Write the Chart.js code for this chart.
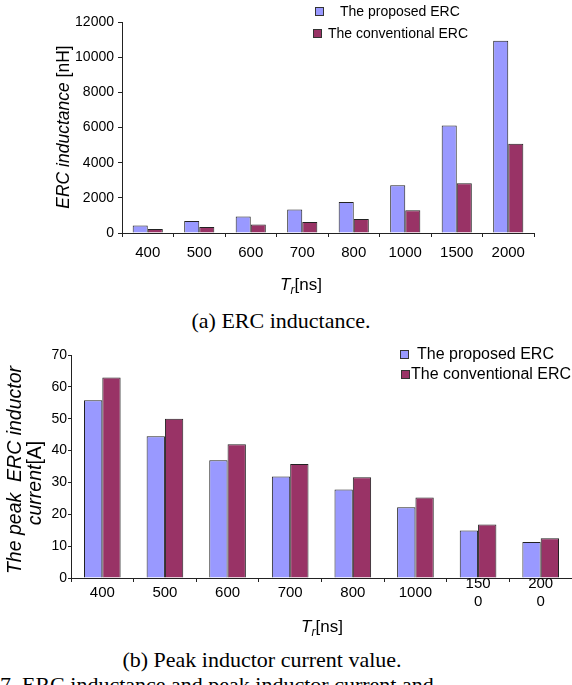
<!DOCTYPE html>
<html>
<head>
<meta charset="utf-8">
<script src="https://cdn.jsdelivr.net/npm/chart.js@4.4.1/dist/chart.umd.min.js"></script>
<style>
  html, body { margin: 0; padding: 0; background: #fff; }
  body { width: 572px; height: 685px; overflow: hidden; position: relative; }
  canvas { position: absolute; left: 0; }
  .cap { position: absolute; font-family: 'Liberation Serif', 'Times New Roman', serif; font-size: 22px; line-height: 26px; white-space: nowrap; color: #000; }
</style>
</head>
<body>
<canvas id="chartL" width="572" height="300" style="top:0"></canvas>
<div class="cap" style="left:281px; top:308px; transform:translateX(-50%)">(a) ERC inductance.</div>
<canvas id="chartI" width="572" height="310" style="top:335px"></canvas>
<div class="cap" style="left:262px; top:647px; transform:translateX(-50%)">(b) Peak inductor current value.</div>
<div class="cap" style="left:0; top:672px">7. ERC inductance and peak inductor current and</div>
<script>
// datos
var categorias = ['400', '500', '600', '700', '800', '1000', '1500', '2000'];
var etiquetasI = ['400', '500', '600', '700', '800', '1000', ['150', '0'], ['200', '0']];
var nombres = ['The proposed ERC', 'The conventional ERC'];
var propuestaL = [430, 680, 945, 1340, 1760, 2720, 6120, 10930];     // nH
var convencionalL = [230, 340, 490, 620, 790, 1290, 2830, 5070];     // nH
var propuestaI = [55.8, 44.5, 37.0, 31.9, 27.8, 22.2, 14.9, 11.3];   // A
var convencionalI = [62.9, 50.0, 42.0, 35.8, 31.6, 25.3, 16.8, 12.5]; // A

var SANS = "'Liberation Sans', Arial, sans-serif";
var colores = ['#9999FF', '#993366'];

Chart.defaults.font.family = SANS;
Chart.defaults.color = '#000';

// texto con partes en cursiva / normal
function textoMixto(ctx, t) {
    ctx.save();
    ctx.translate(t.x, t.y);
    if (t.rot) ctx.rotate(t.rot);
    var total = 0;
    t.partes.forEach(function (p) {
        ctx.font = (p.italic ? 'italic ' : '') + p.size + 'px ' + SANS;
        p.w = ctx.measureText(p.t).width;
        total += p.w;
    });
    var x = -total / 2;
    ctx.fillStyle = '#000';
    ctx.textBaseline = 'alphabetic';
    ctx.textAlign = 'left';
    t.partes.forEach(function (p) {
        ctx.font = (p.italic ? 'italic ' : '') + p.size + 'px ' + SANS;
        ctx.fillText(p.t, x, p.dy || 0);
        x += p.w;
    });
    ctx.restore();
}

function decorado(cfg) {
    return {
        id: 'decorado',
        afterDraw: function (chart) {
            var ctx = chart.ctx;
            // leyenda
            cfg.leyenda.forEach(function (l, i) {
                var ds = chart.data.datasets[i];
                ctx.save();
                ctx.fillStyle = ds.backgroundColor;
                ctx.fillRect(l.sx, l.sy, l.s, l.s);
                ctx.strokeStyle = '#333';
                ctx.lineWidth = 1;
                ctx.strokeRect(l.sx + 0.5, l.sy + 0.5, l.s - 1, l.s - 1);
                ctx.fillStyle = '#000';
                ctx.font = cfg.fuenteLeyenda + 'px ' + SANS;
                ctx.textBaseline = 'middle';
                ctx.fillText(ds.label, l.tx, l.ty);
                ctx.restore();
            });
            cfg.textos.forEach(function (t) { textoMixto(ctx, t); });
        }
    };
}

function opciones(cfg) {
    return {
        responsive: false,
        animation: false,
        devicePixelRatio: 1,
        layout: { padding: cfg.padding },
        plugins: { legend: { display: false }, tooltip: { enabled: false } },
        scales: {
            x: {
                grid: { drawOnChartArea: false, drawTicks: true, tickLength: 4, color: '#222', offset: true },
                border: { color: '#222' },
                ticks: { font: { size: 15 }, color: '#000', padding: cfg.xPad, maxRotation: 0, autoSkip: false },
                afterFit: function (s) { s.height = cfg.xAlto; }
            },
            y: {
                min: 0,
                max: cfg.yMax,
                grid: { drawOnChartArea: false, drawTicks: true, tickLength: cfg.yTick, color: '#222' },
                border: { color: '#222' },
                ticks: { stepSize: cfg.paso, font: { size: 14 }, color: '#000', padding: cfg.yPad,
                    callback: function (v) { return String(v); } },
                afterFit: function (s) { s.width = cfg.yAncho; }
            }
        }
    };
}

function series(a, b) {
    return [a, b].map(function (d, i) {
        return {
            label: nombres[i],
            data: d,
            backgroundColor: colores[i],
            borderColor: '#222',
            borderWidth: 1,
            categoryPercentage: 0.585,
            barPercentage: 1
        };
    });
}

// (a) inductancia
new Chart(document.getElementById('chartL').getContext('2d'), {
    type: 'bar',
    data: { labels: categorias, datasets: series(propuestaL, convencionalL) },
    options: opciones({ padding: { top: 22, right: 38, left: 0, bottom: 0 }, xAlto: 67, xPad: 7,
        yMax: 12000, paso: 2000, yAncho: 122, yTick: 4, yPad: 4 }),
    plugins: [decorado({
        fuenteLeyenda: 14,
        leyenda: [
            { sx: 315, sy: 7, s: 9, tx: 340, ty: 12 },
            { sx: 313, sy: 29, s: 9, tx: 328, ty: 34 }
        ],
        textos: [
            { x: 69, y: 127, rot: -Math.PI / 2, partes: [
                { t: 'ERC inductance', italic: true, size: 17.5 },
                { t: ' [nH]', size: 17.5 }] },
            { x: 301, y: 290, partes: [
                { t: 'T', italic: true, size: 17 },
                { t: 'r', italic: true, size: 12, dy: 4 },
                { t: '[ns]', size: 17 }] }
        ]
    })]
});

// (b) corriente pico
new Chart(document.getElementById('chartI').getContext('2d'), {
    type: 'bar',
    data: { labels: etiquetasI, datasets: series(propuestaI, convencionalI) },
    options: (function () {
        var o = opciones({ padding: { top: 20, right: 0, left: 0, bottom: 0 }, xAlto: 67, xPad: 2,
            yMax: 70, paso: 10, yAncho: 71, yTick: 3, yPad: 1 });
        o.scales.x.ticks.align = 'center';
        o.scales.x.ticks.crossAlign = 'center';
        return o;
    })(),
    plugins: [decorado({
        fuenteLeyenda: 16,
        leyenda: [
            { sx: 400, sy: 15, s: 9, tx: 417, ty: 20 },
            { sx: 401, sy: 35, s: 9, tx: 411, ty: 40 }
        ],
        textos: [
            { x: 21, y: 135, rot: -Math.PI / 2, partes: [
                { t: 'The peak  ERC inductor', italic: true, size: 19.5 }] },
            { x: 41, y: 148, rot: -Math.PI / 2, partes: [
                { t: 'current', italic: true, size: 19.5 },
                { t: '[A]', size: 19.5 }] },
            { x: 322, y: 297, partes: [
                { t: 'T', italic: true, size: 17 },
                { t: 'r', italic: true, size: 12, dy: 4 },
                { t: '[ns]', size: 17 }] }
        ]
    })]
});
</script>
</body>
</html>
